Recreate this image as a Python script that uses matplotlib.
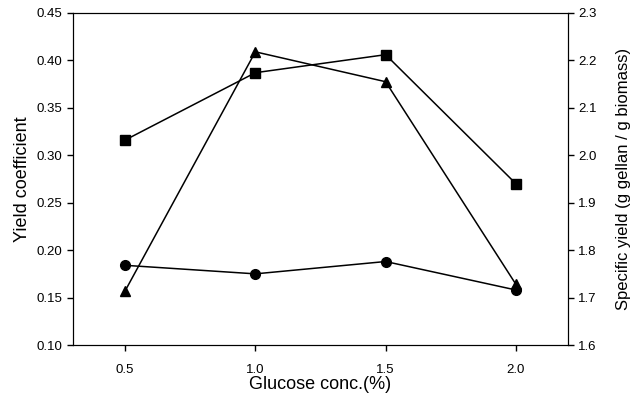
import matplotlib
matplotlib.use("Agg")
import matplotlib.pyplot as plt

plt.rcParams['font.family'] = ['Liberation Sans', 'DejaVu Sans']

glucose = [0.5, 1.0, 1.5, 2.0]
# yield coefficients (left axis)
yield_square = [0.316, 0.387, 0.406, 0.270]
yield_circle = [0.184, 0.175, 0.188, 0.158]
# specific yield (right axis)
specific_yield = [1.714, 2.218, 2.155, 1.728]

fig = plt.figure(figsize=(6.33, 4.04), dpi=100)
ax = fig.add_axes([0.1153, 0.146, 0.782, 0.822])
ax.plot(glucose, yield_square, color='black', lw=1.1, marker='s', ms=7)
ax.plot(glucose, yield_circle, color='black', lw=1.1, marker='o', ms=7)
ax.set_xlim(0.3, 2.2)
ax.set_ylim(0.10, 0.45)
ax.set_xticks(glucose)
ax.set_xticklabels(['0.5', '1.0', '1.5', '2.0'])
ax.set_yticks([0.10, 0.15, 0.20, 0.25, 0.30, 0.35, 0.40, 0.45])
ax.set_yticklabels(['0.10', '0.15', '0.20', '0.25', '0.30', '0.35', '0.40', '0.45'])
ax.tick_params(labelsize=9.5, length=4, width=1)
ax.tick_params(axis='x', pad=10)
ax.set_xlabel('Glucose conc.(%)', fontsize=13, labelpad=0)
ax.set_ylabel('Yield coefficient', fontsize=13, labelpad=4)

ax2 = ax.twinx()
ax2.plot(glucose, specific_yield, color='black', lw=1.1, marker='^', ms=7)
ax2.set_ylim(1.6, 2.3)
ax2.set_yticks([1.6, 1.7, 1.8, 1.9, 2.0, 2.1, 2.2, 2.3])
ax2.tick_params(labelsize=9.5, length=4, width=1)
ax2.set_ylabel('Specific yield (g gellan / g biomass)', fontsize=12, labelpad=14)

fig.savefig('out.png', dpi=100)
